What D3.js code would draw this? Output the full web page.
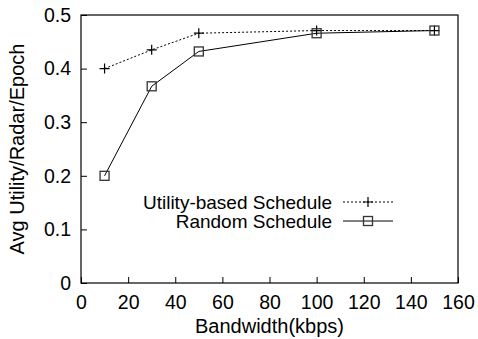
<!DOCTYPE html>
<html>
<head>
<meta charset="utf-8">
<script src="https://cdn.jsdelivr.net/npm/d3@7"></script>
<style>
  body { margin: 0; background: #fff; }
  text { font-family: "Liberation Sans", Arial, sans-serif; fill: #000; }
</style>
</head>
<body>
<div id="chart"></div>
<script>
// bandwidth in kbps
var bandwidth = [10, 30, 50, 100, 150];
var utilitySched = [0.400, 0.435, 0.466, 0.471, 0.471];
var randomSched = [0.200, 0.367, 0.432, 0.466, 0.471];
var xTicks = [0, 20, 40, 60, 80, 100, 120, 140, 160];
var yTicks = [0, 0.1, 0.2, 0.3, 0.4, 0.5];

var outerWidth = 478, outerHeight = 339;
var margin = { left: 81, top: 15, right: 20, bottom: 56 };
var innerWidth = outerWidth - margin.left - margin.right;
var innerHeight = outerHeight - margin.top - margin.bottom;

var svg = d3.select("#chart").append("svg")
  .attr("width", outerWidth)
  .attr("height", outerHeight);

var g = svg.append("g")
  .attr("transform", "translate(" + margin.left + "," + margin.top + ")");

var scaleX = d3.scaleLinear().domain([0, 160]).range([0, innerWidth]);
var scaleY = d3.scaleLinear().domain([0, 0.5]).range([innerHeight, 0]);

// ticks point inward, gnuplot style
var xAxis = d3.axisBottom(scaleX).tickValues(xTicks).tickSizeInner(-6).tickSizeOuter(0).tickPadding(12);
var yAxis = d3.axisLeft(scaleY).tickValues(yTicks).tickSizeInner(-6).tickSizeOuter(0).tickPadding(10)
  .tickFormat(function (d) { return d === 0 ? "0" : d3.format(".1f")(d); });

var xAxisG = g.append("g").attr("transform", "translate(0," + innerHeight + ")").call(xAxis);
var yAxisG = g.append("g").call(yAxis);

[xAxisG, yAxisG].forEach(function (a) {
  a.select(".domain").remove();
  a.selectAll(".tick line").attr("stroke", "#000");
  a.selectAll(".tick text").attr("font-size", "19.5px").attr("fill", "#000")
    .style("font-family", '"Liberation Sans", Arial, sans-serif');
});

// frame
g.append("rect")
  .attr("width", innerWidth).attr("height", innerHeight)
  .attr("fill", "none").attr("stroke", "#000").attr("stroke-width", 1.2);

// axis labels
g.append("text")
  .attr("x", innerWidth / 2).attr("y", innerHeight + 50)
  .attr("text-anchor", "middle").attr("font-size", "20px")
  .text("Bandwidth(kbps)");

g.append("text")
  .attr("transform", "translate(" + (24 - margin.left) + "," + (innerHeight / 2) + ") rotate(-90)")
  .attr("text-anchor", "middle").attr("font-size", "20px")
  .text("Avg Utility/Radar/Epoch");

var line = d3.line()
  .x(function (d) { return scaleX(d[0]); })
  .y(function (d) { return scaleY(d[1]); });

var utilPts = bandwidth.map(function (b, i) { return [b, utilitySched[i]]; });
var randPts = bandwidth.map(function (b, i) { return [b, randomSched[i]]; });

function plus(sel, x, y) {
  sel.append("path")
    .attr("d", "M" + (x - 5) + "," + y + "H" + (x + 5) + "M" + x + "," + (y - 5) + "V" + (y + 5))
    .attr("stroke", "#000").attr("stroke-width", 1.2).attr("fill", "none");
}
function square(sel, x, y) {
  sel.append("rect")
    .attr("x", x - 4.5).attr("y", y - 4.5).attr("width", 9).attr("height", 9)
    .attr("fill", "none").attr("stroke", "#333").attr("stroke-width", 1.3);
}

g.append("path").datum(utilPts)
  .attr("d", line).attr("fill", "none").attr("stroke", "#000")
  .attr("stroke-width", 1).attr("stroke-dasharray", "2,2");
g.append("path").datum(randPts)
  .attr("d", line).attr("fill", "none").attr("stroke", "#000").attr("stroke-width", 1);

utilPts.forEach(function (p) { plus(g, scaleX(p[0]), scaleY(p[1])); });
randPts.forEach(function (p) { square(g, scaleX(p[0]), scaleY(p[1])); });

// legend
var legend = svg.append("g");
var legendItems = [
  { name: "Utility-based Schedule", dash: "2,2", mark: plus, y: 202 },
  { name: "Random Schedule", dash: null, mark: square, y: 221 }
];
legendItems.forEach(function (it) {
  legend.append("text")
    .attr("x", 332).attr("y", it.y).attr("dy", "0.35em")
    .attr("text-anchor", "end").attr("font-size", "19px")
    .text(it.name);
  legend.append("line")
    .attr("x1", 343).attr("x2", 393).attr("y1", it.y).attr("y2", it.y)
    .attr("stroke", "#000").attr("stroke-width", 1)
    .attr("stroke-dasharray", it.dash);
  it.mark(legend, 368, it.y);
});
</script>
</body>
</html>
